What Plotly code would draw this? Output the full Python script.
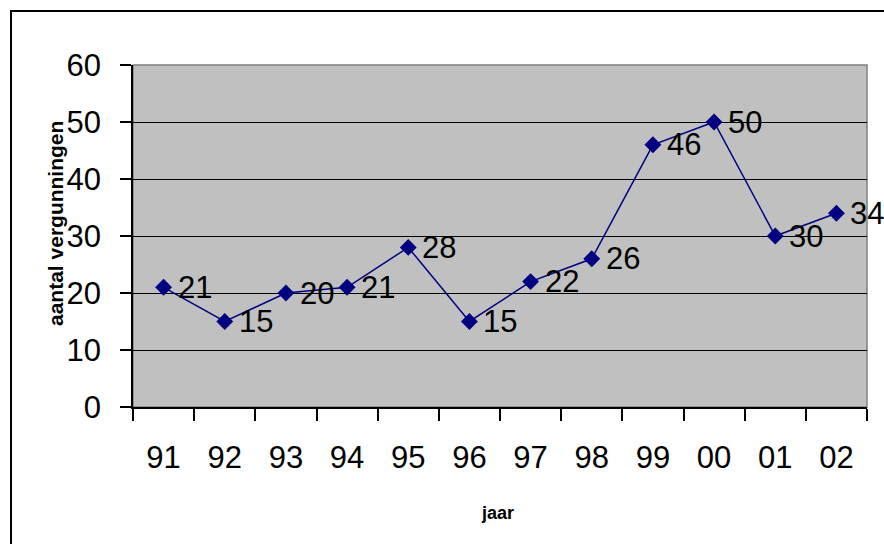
import plotly.graph_objects as go

years = ["91", "92", "93", "94", "95", "96", "97", "98", "99", "00", "01", "02"]
vergunningen = [21, 15, 20, 21, 28, 15, 22, 26, 46, 50, 30, 34]
y_ticks = [0, 10, 20, 30, 40, 50, 60]

L, R, T, B = 133, 867, 65, 407
W, H = 884, 544
pw, ph = R - L, B - T
FONT = "Liberation Sans, Arial"
FS = 31

fig = go.Figure()
fig.add_trace(go.Scatter(
    x=years, y=vergunningen, mode="lines+markers",
    line=dict(color="#000080", width=1.5),
    marker=dict(symbol="diamond", size=13, color="#000080"),
    cliponaxis=False, hoverinfo="skip",
))
for i, yv in enumerate(vergunningen):
    fig.add_annotation(x=i, y=yv, text=str(yv), showarrow=False,
                       xanchor="left", yanchor="middle", xshift=12, yshift=0,
                       font=dict(family=FONT, size=FS, color="black"))

fig.update_layout(
    width=W, height=H,
    margin=dict(l=L, r=W - R, t=T, b=H - B),
    paper_bgcolor="white", plot_bgcolor="#C0C0C0",
    showlegend=False,
    font=dict(family=FONT, color="black"),
)
fig.update_xaxes(
    type="category", tickson="boundaries", ticks="outside", ticklen=12,
    tickcolor="black", tickwidth=1.5, showgrid=False,
    showline=True, linecolor="black", linewidth=2,
    tickfont=dict(family=FONT, size=FS), ticklabelstandoff=22, range=[-0.5, 11.5],
)
fig.update_yaxes(
    range=[0, 60], tickvals=y_ticks, ticks="outside", ticklen=11,
    tickcolor="black", tickwidth=1.5, showgrid=True, gridcolor="black",
    gridwidth=1, zeroline=False, showline=True, linecolor="black",
    linewidth=1.5, tickfont=dict(family=FONT, size=FS), ticklabelstandoff=13,
)

# plot-area border (gray top/right)
fig.add_shape(type="rect", xref="paper", yref="paper", x0=0, x1=1, y0=0, y1=1,
              line=dict(color="#808080", width=1.5), layer="below")
# outer chart frame
fig.add_shape(type="rect", xref="paper", yref="paper",
              x0=(11 - L) / pw, x1=(W + 10 - L) / pw,
              y0=(B - (H + 10)) / ph, y1=(B - 11) / ph,
              line=dict(color="black", width=2))

fig.add_annotation(text="<b>aantal vergunningen</b>", xref="paper", yref="paper",
                   x=(55 - L) / pw, y=(B - 224) / ph, showarrow=False, textangle=-90,
                   font=dict(size=21, color="black"), xanchor="center", yanchor="middle")
fig.add_annotation(text="<b>jaar</b>", xref="paper", yref="paper",
                   x=(497 - L) / pw, y=(B - 513) / ph, showarrow=False,
                   font=dict(size=18, color="black"), xanchor="center", yanchor="middle")

fig.write_html("out.html")
